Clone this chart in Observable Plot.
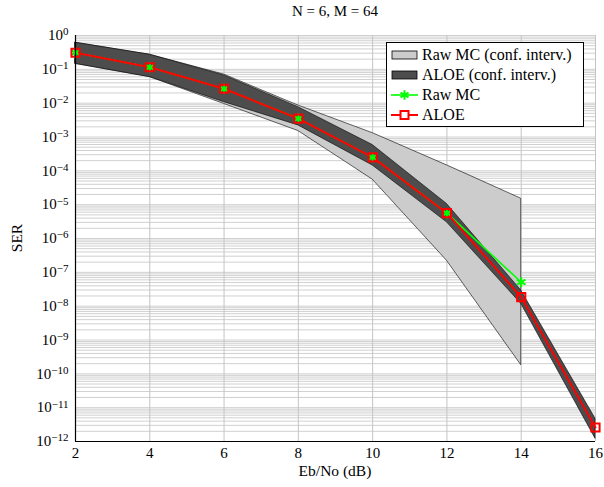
<!DOCTYPE html>
<html><head><meta charset="utf-8">
<script src="https://cdn.jsdelivr.net/npm/d3@7"></script>
<script src="https://cdn.jsdelivr.net/npm/@observablehq/plot@0.6"></script>
<style>
body{margin:0;background:#fff;font-family:"Liberation Serif","DejaVu Serif",serif;color:#000}
#wrap{position:relative;width:604px;height:487px;overflow:hidden}
#title{position:absolute;left:75px;width:520px;top:3px;text-align:center;font-size:15px}
#xlab{position:absolute;left:75px;width:520px;top:462px;text-align:center;font-size:15.5px}
#ylab{position:absolute;left:17px;top:238px;transform:translate(-50%,-50%) rotate(-90deg);font-size:15.5px;white-space:nowrap}
#legend{position:absolute;left:386px;top:42px;width:198px;height:85px;border:1px solid #000;background:#fff;box-sizing:border-box;font-size:16px;padding-top:2px}
.row{display:flex;align-items:center;height:20px;white-space:nowrap}
.row svg{margin-left:4px;margin-right:4px;flex:none}
</style></head><body>
<div id="wrap">
<div id="title">N = 6, M = 64</div>
<div id="xlab">Eb/No (dB)</div>
<div id="ylab">SER</div>
</div>
<script>
// Data
const ebno = [2, 4, 6, 8, 10, 12, 14, 16];
const aloe = [0.31, 0.115, 0.0266, 3.5e-3, 2.5e-4, 5.6e-6, 1.85e-8, 2.6e-12];
const aloeLo = [0.145, 0.059, 0.0107, 2.2e-3, 1.44e-4, 3.0e-6, 1.17e-8, 1.2e-12];
const aloeHi = [0.61, 0.27, 0.066, 7.6e-3, 5.8e-4, 1.05e-5, 2.9e-8, 4.7e-12];
const rawEbno = [2, 4, 6, 8, 10, 12, 14];
const raw = [0.31, 0.115, 0.0266, 3.5e-3, 2.5e-4, 5.6e-6, 5.1e-8];
const rawLo = [0.145, 0.059, 0.0095, 1.5e-3, 5.5e-5, 2.2e-7, 1.8e-10];
const rawHi = [0.61, 0.27, 0.07, 8.5e-3, 1.3e-3, 1.45e-4, 1.5e-5];
const xTicks = [2, 4, 6, 8, 10, 12, 14, 16];
const yExponents = [0, -1, -2, -3, -4, -5, -6, -7, -8, -9, -10, -11, -12];
const seriesNames = ["Raw MC (conf. interv.)", "ALOE (conf. interv.)", "Raw MC", "ALOE"];

const yDecades = yExponents.map(e => Math.pow(10, e));
const yMinor = [];
yExponents.filter(e => e < 0).forEach(e => { for (let m = 2; m <= 9; m++) yMinor.push(m * Math.pow(10, e)); });

const aloeData = ebno.map((x, i) => ({x, y: aloe[i], lo: aloeLo[i], hi: aloeHi[i]}));
const rawData = rawEbno.map((x, i) => ({x, y: raw[i], lo: rawLo[i], hi: rawHi[i]}));

const gridColor = "#c4c4c4";
const plot = Plot.plot({
  width: 604, height: 487,
  marginLeft: 75, marginRight: 9, marginTop: 35, marginBottom: 46,
  style: {fontFamily: "'Liberation Serif', 'DejaVu Serif', serif", fontSize: "15px", background: "transparent", overflow: "visible"},
  x: {domain: [2, 16]},
  y: {type: "log", domain: [1e-12, 1]},
  marks: [
    Plot.ruleY(yMinor, {stroke: gridColor, strokeWidth: 0.8}),
    Plot.ruleY(yDecades, {stroke: gridColor, strokeWidth: 0.8}),
    Plot.ruleX(xTicks, {stroke: gridColor, strokeWidth: 1}),
    Plot.areaY(rawData, {x: "x", y1: "lo", y2: "hi", fill: "#cccccc", stroke: "#000", strokeWidth: 0.6}),
    Plot.areaY(aloeData, {x: "x", y1: "lo", y2: "hi", fill: "#4d4d4d", stroke: "#000", strokeWidth: 0.6}),
    Plot.line(rawData, {x: "x", y: "y", stroke: "#00ff00", strokeWidth: 1.6}),
    Plot.line(aloeData, {x: "x", y: "y", stroke: "#ff0000", strokeWidth: 2}),
    Plot.dot(rawData, {x: "x", y: "y", symbol: "asterisk", r: 4.7, stroke: "#00ff00", strokeWidth: 2}),
    Plot.dot(aloeData, {x: "x", y: "y", symbol: "square", r: 4.6, stroke: "#ff0000", strokeWidth: 2, fill: "none"}),
    Plot.ruleX([2], {stroke: "#000", strokeWidth: 1.2}),
    Plot.ruleY([1e-12], {stroke: "#000", strokeWidth: 1.2}),
    Plot.axisX({ticks: xTicks, tickSize: 0, tickPadding: 6, label: null, fontSize: 15}),
    Plot.axisY({ticks: yDecades, tickSize: 0, tickPadding: 7, label: null, fontSize: 15,
      tickFormat: d => String(Math.round(Math.log10(d)))})
  ]
});
document.getElementById("wrap").prepend(plot);
plot.style.position = "absolute"; plot.style.left = "0"; plot.style.top = "0";

// superscript exponents in y tick labels
d3.select(plot).selectAll('g[aria-label="y-axis tick label"] text').each(function() {
  const e = this.textContent.replace("−", "-");
  const t = d3.select(this);
  t.text("");
  t.append("tspan").text("10");
  t.append("tspan").attr("dy", "-0.45em").attr("font-size", "11px").text(e.replace("-", "−"));
});

// Legend
const leg = d3.select("#wrap").append("div").attr("id", "legend");
const sw = [
  g => g.append("rect").attr("x", 1).attr("y", 3).attr("width", 25).attr("height", 8).attr("fill", "#cccccc").attr("stroke", "#000").attr("stroke-width", 0.8),
  g => g.append("rect").attr("x", 1).attr("y", 3).attr("width", 25).attr("height", 8).attr("fill", "#4d4d4d").attr("stroke", "#000").attr("stroke-width", 0.8),
  g => { g.append("line").attr("x1", 0).attr("x2", 27).attr("y1", 7).attr("y2", 7).attr("stroke", "#00ff00").attr("stroke-width", 1.6);
         g.append("path").attr("transform", "translate(13.5,7)").attr("d", d3.symbol(d3.symbolAsterisk, 60)()).attr("stroke", "#00ff00").attr("stroke-width", 2).attr("fill", "none"); },
  g => { g.append("line").attr("x1", 0).attr("x2", 27).attr("y1", 7).attr("y2", 7).attr("stroke", "#ff0000").attr("stroke-width", 2);
         g.append("rect").attr("x", 9.5).attr("y", 3).attr("width", 8).attr("height", 8).attr("fill", "#fff").attr("stroke", "#ff0000").attr("stroke-width", 2); }
];
seriesNames.forEach((name, i) => {
  const row = leg.append("div").attr("class", "row");
  const s = row.append("svg").attr("width", 27).attr("height", 14);
  sw[i](s);
  row.append("span").text(name);
});
</script>
</body></html>
